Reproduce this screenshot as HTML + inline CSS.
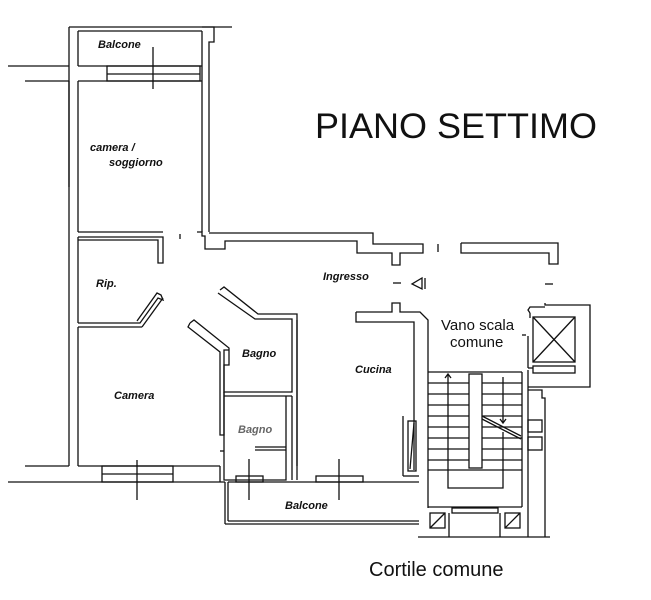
<!DOCTYPE html>
<html><head><meta charset="utf-8"><style>
html,body{margin:0;padding:0;background:#fff;width:651px;height:600px;overflow:hidden}
svg{display:block}
.l{font-family:"Liberation Sans",sans-serif;font-weight:bold;font-style:italic;font-size:11px;fill:#111}
.n{font-family:"Liberation Sans",sans-serif;fill:#111}
</style></head><body>
<svg width="651" height="600" viewBox="0 0 651 600" xmlns="http://www.w3.org/2000/svg">
<g fill="none" stroke="#111" stroke-width="1.3">
<line x1="8" y1="66" x2="69" y2="66"/>
<line x1="25" y1="81" x2="69" y2="81"/>
<line x1="69" y1="27" x2="69" y2="187"/>
<line x1="69" y1="81" x2="69" y2="466"/>
<line x1="78" y1="31" x2="78" y2="66"/>
<line x1="78" y1="81" x2="78" y2="232"/>
<line x1="78" y1="237" x2="78" y2="323"/>
<line x1="78" y1="327" x2="78" y2="466"/>
<line x1="25" y1="466" x2="69" y2="466"/>
<line x1="8" y1="482" x2="225" y2="482"/>
<line x1="69" y1="27" x2="232" y2="27"/>
<line x1="78" y1="31" x2="202" y2="31"/>
<line x1="78" y1="66" x2="202" y2="66"/>
<line x1="78" y1="81" x2="202" y2="81"/>
<rect x="107" y="66" width="93" height="15"/>
<line x1="107" y1="74" x2="200" y2="74"/>
<line x1="153" y1="47" x2="153" y2="89"/>
<polyline points="202,31 202,232"/>
<polyline points="202,27 214,27 214,42 209,42 209,232"/>
<polyline points="78,232 163,232"/>
<polyline points="197,232 202,232 202,236 205,236 205,249 225,249 225,241 357,241 357,253 392,253 392,265 400,265 400,253 423,253 423,244 373,244 373,233 209,233"/>
<line x1="180" y1="234" x2="180" y2="239"/>
<polyline points="461,243 558,243 558,264 549,264 549,253 461,253 461,243"/>
<line x1="438" y1="244" x2="438" y2="252"/>
<line x1="545" y1="284" x2="553" y2="284"/>
<polyline points="78,237 163,237 163,263 158,263 158,240 78,240"/>
<polyline points="78,323 140,323 158,298 163,300 161,295 157,293 137,321"/>
<line x1="78" y1="327" x2="142" y2="327"/>
<line x1="142" y1="327" x2="163" y2="298"/>
<polyline points="220,290 224,287 258,314 297,314 297,466"/>
<polyline points="218,293 255,319 292,319 292,392 224,392 224,350 229,350"/>
<polyline points="190,323 194,320 229,348 229,365 224,365 224,435 220,435 220,352 188,327 190,323"/>
<line x1="224" y1="396" x2="292" y2="396"/>
<line x1="224" y1="392" x2="224" y2="396"/>
<polyline points="224,396 224,480 286,480 286,396"/>
<line x1="292" y1="396" x2="292" y2="480"/>
<line x1="255" y1="447" x2="286" y2="447"/>
<line x1="255" y1="450" x2="286" y2="450"/>
<line x1="220" y1="466" x2="220" y2="482"/>
<line x1="220" y1="451" x2="224" y2="451"/>
<line x1="78" y1="466" x2="220" y2="466"/>
<rect x="102" y="466" width="71" height="16"/>
<line x1="102" y1="474" x2="173" y2="474"/>
<line x1="137" y1="460" x2="137" y2="500"/>
<line x1="225" y1="482" x2="225" y2="524"/>
<line x1="228" y1="482" x2="228" y2="521"/>
<line x1="225" y1="524" x2="419" y2="524"/>
<line x1="228" y1="521" x2="419" y2="521"/>
<line x1="228" y1="482" x2="419" y2="482"/>
<rect x="236" y="476" width="27" height="6"/>
<rect x="316" y="476" width="47" height="6"/>
<line x1="249" y1="459" x2="249" y2="500"/>
<line x1="339" y1="459" x2="339" y2="500"/>
<line x1="297" y1="320" x2="297" y2="480"/>
<polyline points="356,312 392,312 392,303 400,303 400,312 420,312 428,320 428,508"/>
<polyline points="356,312 356,322 414,322 414,470"/>
<line x1="403" y1="416" x2="403" y2="476"/>
<line x1="403" y1="476" x2="419" y2="476"/>
<rect x="408" y="421" width="8" height="50"/>
<line x1="414" y1="423" x2="410" y2="469"/>
<line x1="393" y1="283" x2="401" y2="283"/>
<polygon points="422,278 422,289 412,284"/>
<line x1="425" y1="278" x2="425" y2="289"/>
<line x1="428" y1="372" x2="522" y2="372"/>
<g>
<line x1="428" y1="383" x2="522" y2="383"/><line x1="428" y1="394" x2="522" y2="394"/>
<line x1="428" y1="405" x2="522" y2="405"/><line x1="428" y1="416" x2="522" y2="416"/>
<line x1="428" y1="427" x2="522" y2="427"/><line x1="428" y1="438" x2="522" y2="438"/>
<line x1="428" y1="449" x2="522" y2="449"/><line x1="428" y1="460" x2="522" y2="460"/>
<line x1="428" y1="470" x2="522" y2="470"/>
</g>
<rect x="469" y="374" width="13" height="94" fill="#fff"/>
<polyline points="448,375 448,488 503,488 503,432"/>
<polyline points="445,378 448,374 451,378"/>
<line x1="503" y1="377" x2="503" y2="422"/>
<polyline points="500,419 503,423 506,419"/>
<line x1="482" y1="416" x2="521" y2="436"/>
<line x1="482" y1="419" x2="521" y2="439"/>
<line x1="522" y1="372" x2="522" y2="507"/>
<line x1="428" y1="507" x2="522" y2="507"/>
<rect x="452" y="508" width="46" height="5"/>
<line x1="449" y1="513" x2="449" y2="537"/>
<line x1="500" y1="513" x2="500" y2="537"/>
<rect x="430" y="513" width="15" height="15"/><line x1="430" y1="528" x2="445" y2="513"/>
<rect x="505" y="513" width="15" height="15"/><line x1="505" y1="528" x2="520" y2="513"/>
<line x1="418" y1="537" x2="550" y2="537"/>
<line x1="528" y1="370" x2="528" y2="537"/>
<polyline points="545,303 545,305 590,305 590,387 528,387"/>
<polyline points="530,313 528,310 530,307 545,307"/>
<line x1="530" y1="313" x2="530" y2="318"/>
<rect x="533" y="317" width="42" height="45"/>
<line x1="533" y1="317" x2="575" y2="362"/><line x1="575" y1="317" x2="533" y2="362"/>
<rect x="533" y="366" width="42" height="7"/>
<line x1="528" y1="336" x2="528" y2="368"/>
<line x1="522" y1="335" x2="526" y2="335"/>
<line x1="528" y1="368" x2="533" y2="368"/>
<polyline points="528,390 542,390 542,398 545,398 545,537"/>
<rect x="528" y="420" width="14" height="12"/>
<rect x="528" y="437" width="14" height="13"/>
</g>
<text x="315" y="138" class="n" font-size="35" textLength="282" lengthAdjust="spacingAndGlyphs">PIANO SETTIMO</text>
<text x="98" y="48" class="l">Balcone</text>
<text x="90" y="151" class="l">camera /</text>
<text x="109" y="166" class="l">soggiorno</text>
<text x="96" y="287" class="l">Rip.</text>
<text x="323" y="280" class="l">Ingresso</text>
<text x="242" y="357" class="l">Bagno</text>
<text x="114" y="399" class="l">Camera</text>
<text x="355" y="373" class="l">Cucina</text>
<text x="238" y="433" class="l" style="fill:#666">Bagno</text>
<text x="285" y="509" class="l">Balcone</text>
<text x="441" y="330" class="n" font-size="15">Vano scala</text>
<text x="450" y="347" class="n" font-size="15">comune</text>
<text x="369" y="576" class="n" font-size="20">Cortile comune</text>
</svg>
</body></html>
